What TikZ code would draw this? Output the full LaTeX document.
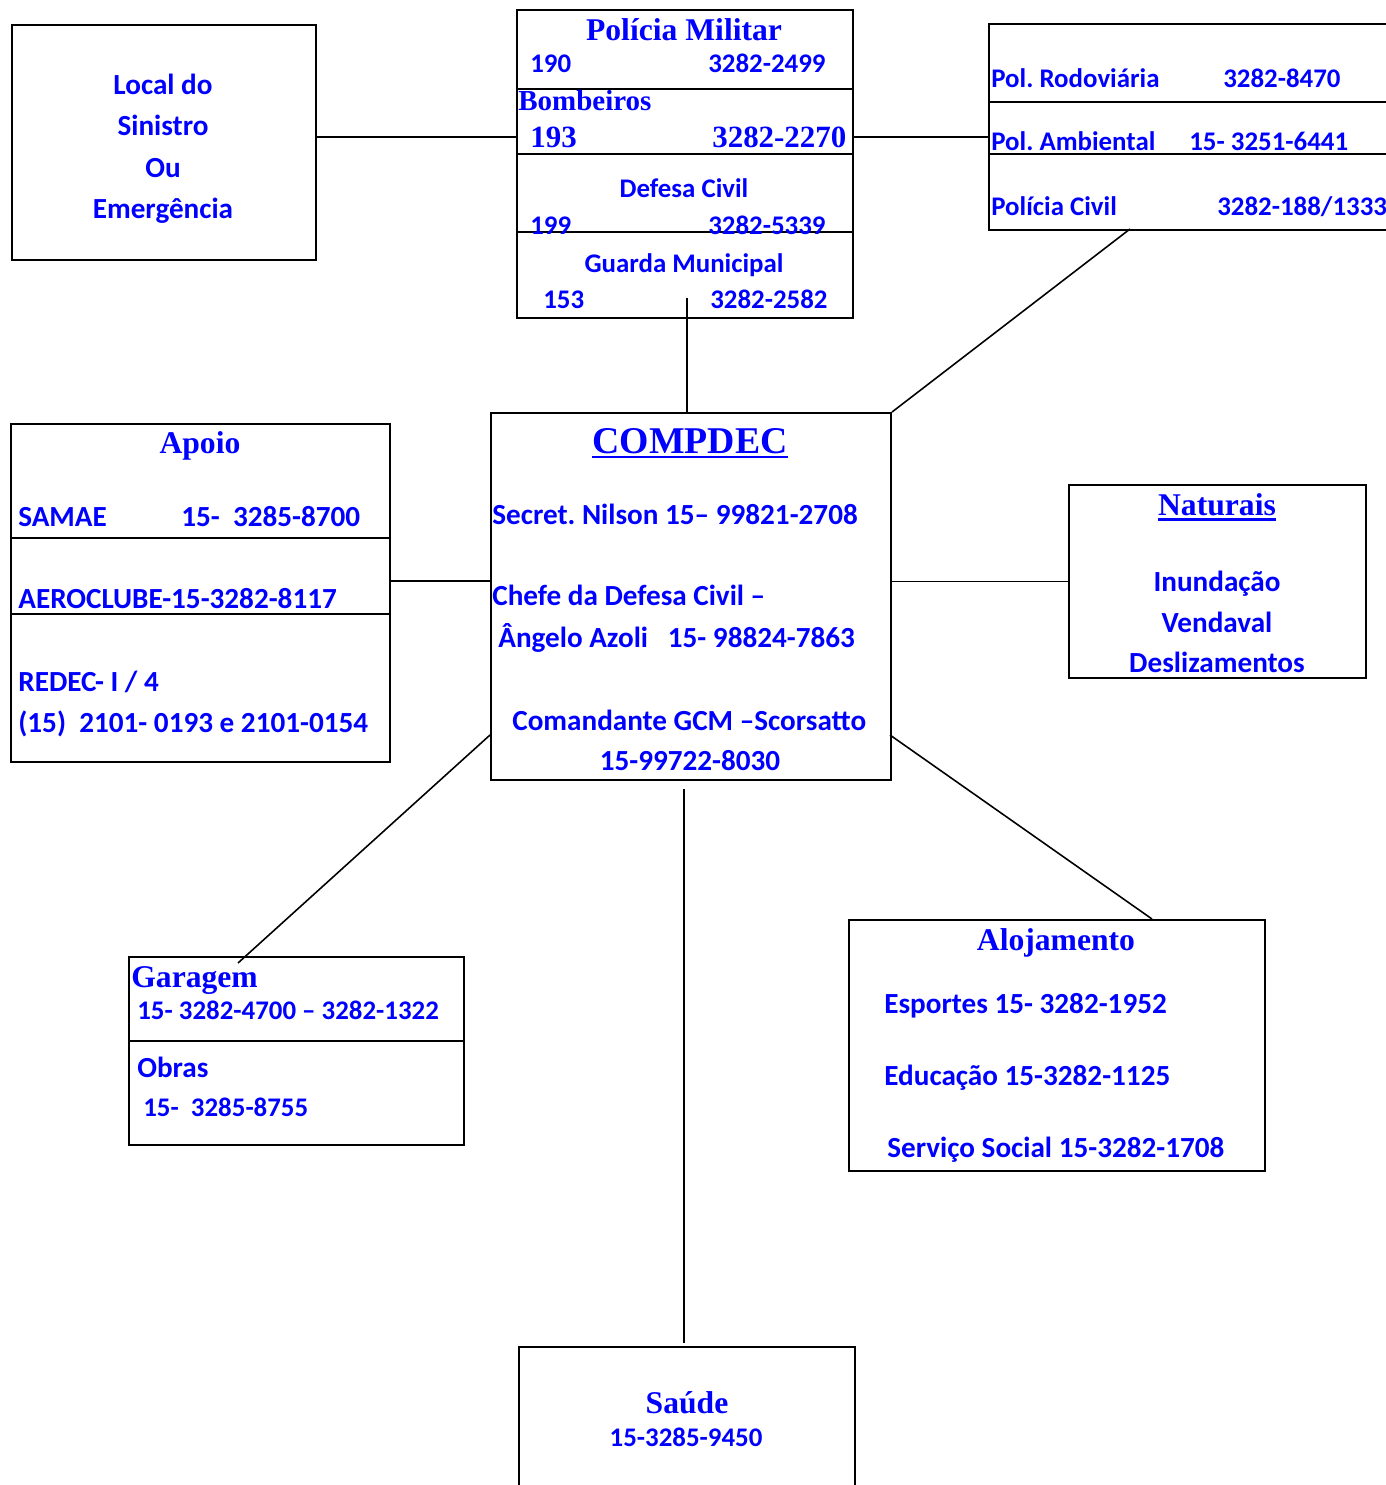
\documentclass[tikz,border=0pt]{standalone}
\usepackage{fontspec}
\setmainfont{Carlito}
\newfontfamily\tnr{Liberation Serif}
\usetikzlibrary{positioning}
\definecolor{txtblue}{RGB}{0,0,255}
\frenchspacing

\begin{document}
\begin{tikzpicture}[x=0.02cm,y=-0.02cm,
  box/.style={draw=black,line width=1.2pt,inner sep=0pt},
  rule/.style={draw=black,line width=1.2pt},
  link/.style={draw=black,line width=0.9pt},
  txt/.style={font=\bfseries\fontsize{15.3}{18}\selectfont,text=txtblue,inner sep=0pt},
  txtl/.style={font=\bfseries\fontsize{16.6}{20}\selectfont,text=txtblue,inner sep=0pt},
  head/.style={font=\tnr\bfseries\fontsize{18}{21}\selectfont,text=txtblue,inner sep=0pt},
  ulin/.style={draw=txtblue,line width=1.6pt}]
\useasboundingbox (0,0) rectangle (1386,1485);
\clip (0,0) rectangle (1386,1485);

% boxes
\node[box,anchor=north west,minimum width=6.08cm,minimum height=4.7cm] (local) at (11,24) {};
\node[box,anchor=north west,minimum width=6.72cm,minimum height=6.16cm] (pm) at (516,9) {};
\node[box,anchor=north west,minimum width=8.24cm,minimum height=4.12cm] (pol) at (988,23) {};
\node[box,anchor=north west,minimum width=7.58cm,minimum height=6.76cm] (apoio) at (10,423) {};
\node[box,anchor=north west,minimum width=8cm,minimum height=7.34cm] (cmp) at (490,412) {};
\node[box,anchor=north west,minimum width=5.94cm,minimum height=3.86cm] (nat) at (1068,484) {};
\node[box,anchor=north west,minimum width=6.7cm,minimum height=3.76cm] (gar) at (128,956) {};
\node[box,anchor=north west,minimum width=8.32cm,minimum height=5.02cm] (alo) at (848,919) {};
\node[box,anchor=north west,minimum width=6.72cm,minimum height=3.2cm] (sau) at (518,1346) {};

% dividers
\draw[rule] (pm.west |- 0,89) -- (pm.east |- 0,89);
\draw[rule] (pm.west |- 0,154) -- (pm.east |- 0,154);
\draw[rule] (pm.west |- 0,232) -- (pm.east |- 0,232);
\draw[rule] (pol.west |- 0,102) -- (pol.east |- 0,102);
\draw[rule] (pol.west |- 0,154) -- (pol.east |- 0,154);
\draw[rule] (apoio.west |- 0,538) -- (apoio.east |- 0,538);
\draw[rule] (apoio.west |- 0,614) -- (apoio.east |- 0,614);
\draw[rule] (gar.west |- 0,1041) -- (gar.east |- 0,1041);

% local
\node[txtl,anchor=base] (loc1) at (163,94) {Local do};
\node[txtl,anchor=base] (loc2) at (163,135) {Sinistro};
\node[txtl,anchor=base] (loc3) at (163,177) {Ou};
\node[txtl,anchor=base] (loc4) at (163,218) {Emergência};

% policia militar
\node[head,anchor=base] (pmtit) at (684,40) {Polícia Militar};
\node[txt,anchor=base west] (pm190) at (530,72) {190};
\node[txt,anchor=base west] (pmtel) at (708,72) {3282-2499};
\node[head,anchor=base west,font=\tnr\bfseries\fontsize{16.5}{20}\selectfont] (bomb) at (518,110) {Bombeiros};
\node[head,anchor=base west,font=\tnr\bfseries\fontsize{17.6}{21}\selectfont] (bo193) at (530,147) {193};
\node[head,anchor=base west,font=\tnr\bfseries\fontsize{17.6}{21}\selectfont] (botel) at (712,147) {3282-2270};
\node[txt,anchor=base] (dc) at (684,197) {Defesa Civil};
\node[txt,anchor=base west] (dc199) at (530,234) {199};
\node[txt,anchor=base west] (dctel) at (708,234) {3282-5339};
\node[txt,anchor=base] (gm) at (684,272) {Guarda Municipal};
\node[txt,anchor=base west] (gm153) at (543,308) {153};
\node[txt,anchor=base west] (gmtel) at (710,308) {3282-2582};
\coordinate (pmstub) at (687,298);

% policias
\node[txt,anchor=base west] (rod) at (991,87) {Pol. Rodoviária};
\node[txt,anchor=base west] (rodtel) at (1223,87) {3282-8470};
\node[txt,anchor=base west] (amb) at (991,150) {Pol. Ambiental};
\node[txt,anchor=base west] (ambtel) at (1189,150) {15- 3251-6441};
\node[txt,anchor=base west] (civ) at (991,215) {Polícia Civil};
\node[txt,anchor=base west] (civtel) at (1217,215) {3282-188/1333};

% apoio
\node[head,anchor=base] (aptit) at (200,453) {Apoio};
\node[txtl,anchor=base west] (samae) at (18,526) {SAMAE};
\node[txtl,anchor=base west] (samtel) at (181,526) {15-\ \ 3285-8700};
\node[txtl,anchor=base west] (aero) at (18,608) {AEROCLUBE-15-3282-8117};
\node[txtl,anchor=base west] (redec) at (18,691) {REDEC- I / 4};
\node[txtl,anchor=base west] (redtel) at (18,732) {(15)\ \ 2101- 0193 e 2101-0154};

% compdec
\node[head,anchor=base,font=\tnr\bfseries\fontsize{21.5}{25}\selectfont] (cmptit) at (690,453) {COMPDEC};
\draw[ulin] ([yshift=-0.08cm]cmptit.base west) -- ([yshift=-0.08cm]cmptit.base east);
\node[txtl,anchor=base west] (sec) at (492,524) {Secret. Nilson 15– 99821-2708};
\node[txtl,anchor=base west] (chefe) at (492,605) {Chefe da Defesa Civil –};
\node[txtl,anchor=base west] (ang) at (498,647) {Ângelo Azoli\ \ \ 15- 98824-7863};
\node[txtl,anchor=base west] (gcm) at (512,730) {Comandante GCM –Scorsatto};
\node[txtl,anchor=base] (gcmtel) at (690,770) {15-99722-8030};

% naturais
\node[head,anchor=base] (nattit) at (1217,515) {Naturais};
\draw[ulin] ([yshift=-0.09cm]nattit.base west) -- ([yshift=-0.09cm]nattit.base east);
\node[txtl,anchor=base] (inund) at (1217,591) {Inundação};
\node[txtl,anchor=base] (vend) at (1217,632) {Vendaval};
\node[txtl,anchor=base] (desl) at (1217,672) {Deslizamentos};

% garagem
\node[head,anchor=base west] (gartit) at (131,987) {Garagem};
\node[txt,anchor=base west] (gartel) at (137,1019) {15- 3282-4700 – 3282-1322};
\node[txtl,anchor=base west] (obras) at (137,1077) {Obras};
\node[txt,anchor=base west] (obtel) at (143,1116) {15-\ \ 3285-8755};

% alojamento
\node[head,anchor=base] (alotit) at (1056,950) {Alojamento};
\node[txtl,anchor=base west] (esp) at (884,1013) {Esportes 15- 3282-1952};
\node[txtl,anchor=base west] (edu) at (884,1085) {Educação 15-3282-1125};
\node[txtl,anchor=base west] (serv) at (887,1157) {Serviço Social 15-3282-1708};

% saude
\node[head,anchor=base] (sautit) at (687,1413) {Saúde};
\node[txt,anchor=base] (sautel) at (686,1446) {15-3285-9450};

% connectors
\coordinate (cmpsw) at (490,735);
\coordinate (cmpse) at (890,735);
\coordinate (garin) at (238,963);
\coordinate (alotop) at (1152,919);
\coordinate (cmpbot) at (684,789);
\coordinate (saubot) at (684,1343);
\coordinate (polbot) at (1130,229);
\draw[link] (local.east |- 0,137) -- (pm.west |- 0,137);
\draw[link] (pm.east |- 0,137) -- (pol.west |- 0,137);
\draw[link] (pmstub) -- (pmstub |- cmp.north);
\draw[link] (polbot) -- (cmp.north east);
\draw[link] (apoio.east |- 0,581) -- (cmp.west |- 0,581);
\draw[link] (cmp.east |- nat.west) -- (nat.west);
\draw[link] (cmpsw) -- (garin);
\draw[link] (cmpse) -- (alotop);
\draw[link] (cmpbot) -- (saubot);

\end{tikzpicture}
\end{document}
